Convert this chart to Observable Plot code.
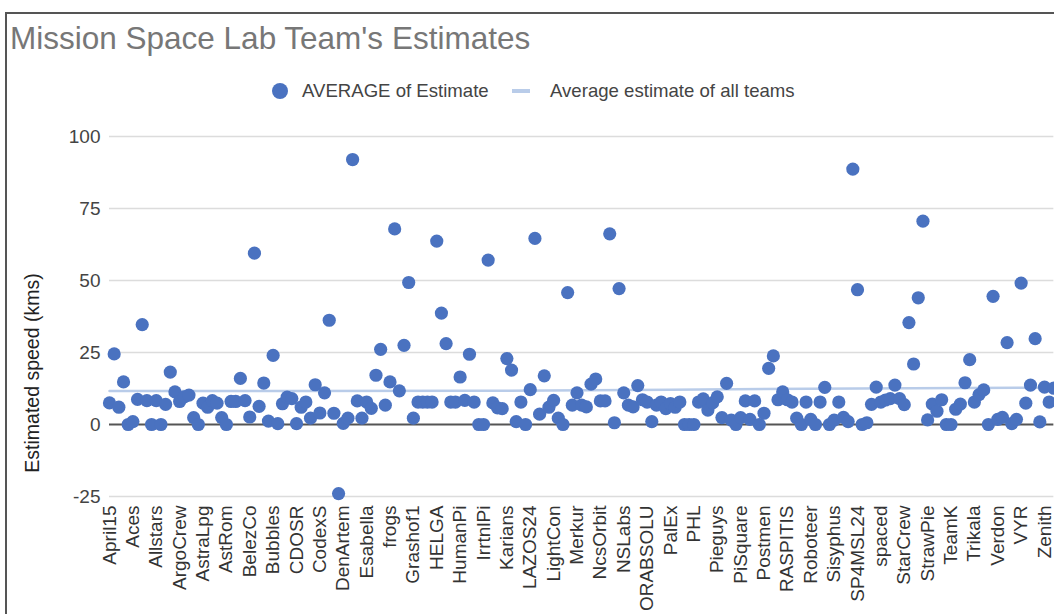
<!DOCTYPE html>
<html><head><meta charset="utf-8">
<script src="https://cdn.jsdelivr.net/npm/d3@7"></script>
<script src="https://cdn.jsdelivr.net/npm/@observablehq/plot@0.6"></script>
<style>
body{margin:0;background:#fff;font-family:"Liberation Sans",Arial,sans-serif;}
#wrap{position:relative;width:1054px;height:614px;overflow:hidden;background:#fff;}
#frame{position:absolute;left:5px;top:12px;width:1200px;height:800px;border-left:2px solid #555;border-top:2px solid #555;}
#title{position:absolute;left:10px;top:21px;font-size:31.5px;line-height:34px;color:#777;white-space:nowrap;}
#legend{position:absolute;top:80px;left:0;height:22px;font-size:18.6px;line-height:22px;color:#444;white-space:nowrap;}
.lg{position:absolute;top:0;}
#ytitle{position:absolute;left:-98px;top:362px;width:260px;text-align:center;font-size:19.5px;line-height:22px;color:#222;transform:rotate(-90deg);white-space:nowrap;}
#chart{position:absolute;left:0;top:0;}
</style></head>
<body>
<div id="wrap">
  <div id="frame"></div>
  <div id="chart"></div>
  <div id="title">Mission Space Lab Team's Estimates</div>
  <div id="legend">
    <span class="lg" style="left:272px;top:3px;width:16px;height:16px;border-radius:50%;background:#4a72c0;"></span>
    <span class="lg" style="left:302px;">AVERAGE of Estimate</span>
    <span class="lg" style="left:512px;top:9px;width:18px;height:4px;background:#b9cce9;"></span>
    <span class="lg" style="left:550px;">Average estimate of all teams</span>
  </div>
  <div id="ytitle">Estimated speed (kms)</div>
</div>
<script>
const tickLabels = ["April15","Aces","Allstars","ArgoCrew","AstraLpg","AstRom","BelezCo","Bubbles","CDOSR","CodexS",
  "DenArtem","Esabella","frogs","Grashof1","HELGA","HumanPi","IrrtnlPi","Karians","LAZOS24","LightCon",
  "Merkur","NcsOrbit","NSLabs","ORABSOLU","PalEx","PHL","Pieguys","PiSquare","Postmen","RASPITIS",
  "Roboteer","Sisyphus","SP4MSL24","spaced","StarCrew","StrawPie","TeamK","Trikala","Verdon","VYR","Zenith"];
const labelEvery = 5;

const estimates = [
  7.5, 24.5, 6, 14.8, 0, 1, 8.7, 34.7, 8.3, 0,
  8.3, 0, 7, 18.2, 11.3, 8, 9.6, 10.2, 2.4, 0,
  7.4, 6, 8.3, 7.4, 2.4, 0, 8, 8, 16, 8.3,
  2.6, 59.5, 6.3, 14.4, 1.2, 24, 0.3, 7.2, 9.5, 9,
  0.3, 6,
  7.8, 2.2, 13.8, 4, 11, 36.2, 3.9, -24, 0.4, 2.2,
  92, 8.2, 2.2, 7.8, 5.6, 17.1, 26.1, 6.7, 14.8, 67.9,
  11.7, 27.5, 49.3, 2.2, 7.8, 7.8, 7.8, 7.8, 63.7, 38.7,
  28.1, 7.8, 7.8, 16.5, 8.4, 24.4, 7.8, 0, 0, 57.1,
  7.5, 5.8, 5.5, 22.9, 18.9, 1, 7.8, 0, 12.1, 64.6,
  3.6, 16.9, 6, 8.4, 2.2, 0, 45.8, 6.7, 11, 6.7,
  6.1, 14, 15.8, 8.2, 8.2, 66.2, 0.6, 47.2, 11, 6.7,
  6.1, 13.5, 8.6, 7.8, 1, 6.7, 7.8, 5.5, 7.3, 6,
  7.8, 0, 0, 0, 7.8, 8.9, 5, 7.5, 9.6, 2.4,
  14.3, 1.5, 0, 2.4, 8.2, 1.8, 8.2, 0, 3.9, 19.5,
  23.8, 8.6, 11.3, 8.6, 7.8, 2.2, 0, 7.8, 1.8, 0,
  7.8, 12.9, 0, 1.5, 7.8, 2.5, 1, 88.7, 46.8, 0,
  0.6, 7, 13, 7.8, 8.5, 9, 13.7, 9, 6.9, 35.4,
  21, 44, 70.6, 1.6, 7.1, 4.6, 8.6, 0, 0, 5.3,
  7.1, 14.5, 22.5, 7.8, 10.4, 12, 0, 44.5, 1.8, 2.5,
  28.4, 0.3, 1.8, 49.1, 7.4, 13.7, 29.8, 0.9, 13, 7.8,
  12.6
];

const avgIndex = [0, 40, 80, 120, 160, 202];
const avgValue = [11.6, 11.6, 11.7, 12.1, 12.5, 12.8];
const yTicks = [-25, 0, 25, 50, 75, 100];

const pts = estimates.map((v, i) => ({i, v}));
const avg = avgIndex.map((i, k) => ({i, v: avgValue[k]}));
const tickIdx = tickLabels.map((_, k) => k * labelEvery);

const chart = Plot.plot({
  width: 1054, height: 614,
  marginLeft: 109, marginRight: 0.65, marginTop: 136, marginBottom: 118,
  style: {fontFamily: "'Liberation Sans', Arial, sans-serif", fontSize: "18.5px", color: "#444", background: "transparent", overflow: "visible"},
  x: {domain: [0, estimates.length - 1], axis: null},
  y: {domain: [-25, 100], axis: null},
  marks: [
    Plot.ruleY(yTicks.filter(t => t !== 0), {stroke: "#dcdcdc", strokeWidth: 1.5}),
    Plot.lineY(avg, {x: "i", y: "v", stroke: "#b9cce9", strokeWidth: 2.5}),
    Plot.ruleY([0], {stroke: "#555", strokeWidth: 2}),
    Plot.dot(pts, {x: "i", y: "v", r: 6.6, fill: "#4a72c0"}),
    Plot.axisY(yTicks, {tickSize: 0, tickPadding: 9, label: null, fontSize: 19, fill: "#444",
      tickFormat: d => String(d)}),
    Plot.axisX(tickIdx, {tickSize: 0, tickRotate: -90, tickPadding: 9, label: null, fontSize: 19, fill: "#333",
      tickFormat: d => tickLabels[d / labelEvery]})
  ]
});
document.getElementById("chart").appendChild(chart);
</script>
</body></html>
